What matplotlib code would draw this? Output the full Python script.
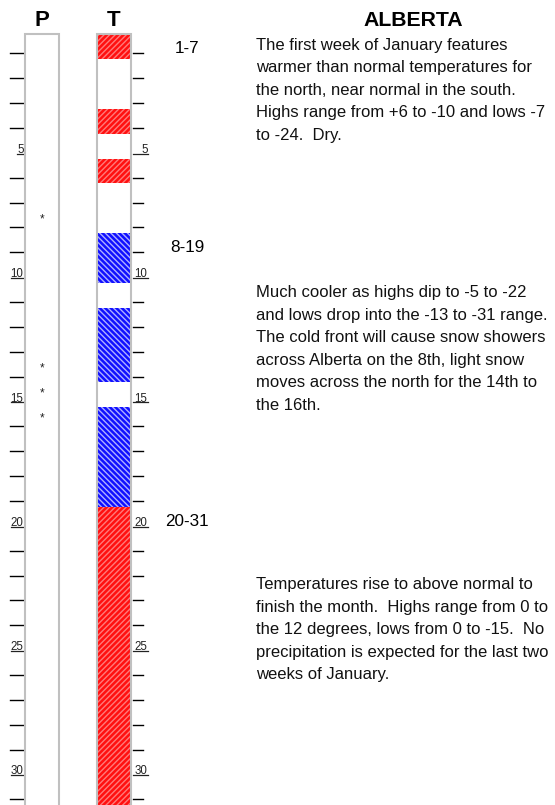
import matplotlib
matplotlib.use("Agg")
import matplotlib.pyplot as plt

plt.rcParams['font.family'] = ['Liberation Sans', 'DejaVu Sans']
plt.rcParams['hatch.linewidth'] = 1.0

# ---------------- data ----------------
days = list(range(1, 32))
# temperature anomaly per day: 'warm', 'cold' or 'normal'
temp_anomaly = ['warm', 'normal', 'normal', 'warm', 'normal', 'warm', 'normal',
                'normal', 'cold', 'cold', 'normal', 'cold', 'cold', 'cold',
                'normal', 'cold', 'cold', 'cold', 'cold',
                'warm', 'warm', 'warm', 'warm', 'warm', 'warm', 'warm', 'warm',
                'warm', 'warm', 'warm', 'warm']
precip_days = [8, 14, 15, 16]
labeled_days = [5, 10, 15, 20, 25, 30]

periods = ['1-7', '8-19', '20-31']
period_starts = [1, 8, 20]
period_ends = [7, 19, 31]

region = 'ALBERTA'
column_titles = ['P', 'T']
paragraphs = [
    ["The first week of January features",
     "warmer than normal temperatures for",
     "the north, near normal in the south.",
     "Highs range from +6 to -10 and lows -7",
     "to -24.  Dry."],
    ["Much cooler as highs dip to -5 to -22",
     "and lows drop into the -13 to -31 range.",
     "The cold front will cause snow showers",
     "across Alberta on the 8th, light snow",
     "moves across the north for the 14th to",
     "the 16th."],
    ["Temperatures rise to above normal to",
     "finish the month.  Highs range from 0 to",
     "the 12 degrees, lows from 0 to -15.  No",
     "precipitation is expected for the last two",
     "weeks of January."],
]

# ---------------- layout / style ----------------
W, H = 555, 805
TOP = 34.3          # pixel of top of day 1 row
ROW = (H - TOP) / 31.0
BASE_OFF = 0.27     # baseline offset (days) below row centre

fig = plt.figure(figsize=(W / 100, H / 100), dpi=100)
ax = fig.add_axes([0, 0, 1, 1])
ax.set_xlim(0, W)
# y in day units: row of day d spans [d-0.5, d+0.5]
ax.set_ylim(0.5 + (H - TOP) / ROW, 0.5 - TOP / ROW)
ax.axis('off')

def py(p):
    """pixel row -> day units"""
    return 0.5 + (p - TOP) / ROW

fill_style = {
    'warm': dict(facecolor='#ff1010', edgecolor='#ff7a7a', hatch='//////'),
    'cold': dict(facecolor='#1010ff', edgecolor='#b0b0ff', hatch='\\\\\\\\\\\\'),
}

P_L, P_R = 25.3, 59.3
T_L, T_R = 97.0, 131.0
grey = '#c0c0c0'

# temperature cells
for d, a in zip(days, temp_anomaly):
    if a in fill_style:
        ax.bar((T_L + T_R) / 2, 1.0, bottom=d - 0.5, width=T_R - T_L - 1.5,
               linewidth=0, zorder=2, **fill_style[a])

# column frames
y_top = py(TOP)
y_bot = days[-1] + 0.6
for xl, xr in [(P_L, P_R), (T_L, T_R)]:
    ax.plot([xl, xl, xr, xr], [y_bot, y_top, y_top, y_bot], color=grey,
            lw=1.5, solid_joinstyle='miter', zorder=3)

# precipitation markers
for d in precip_days:
    ax.text((P_L + P_R) / 2, d - 0.05, '*', ha='center', va='center',
            fontsize=8.5, color='#222222', zorder=4)

# ticks and day numbers
for d in days:
    yb = d + BASE_OFF
    if d in labeled_days:
        s = str(d)
        ax.text(23.5, yb, s, ha='right', va='baseline', fontsize=8.3, color='#222222')
        w = 6.2 * len(s)
        ax.plot([23.5 - w, 23.5], [yb + 0.04, yb + 0.04], color='#222222', lw=0.9)
        ax.text(147.5, yb, s, ha='right', va='baseline', fontsize=8.3, color='#222222')
        ax.plot([133, 147.5], [yb + 0.04, yb + 0.04], color='#222222', lw=0.9)
    else:
        ax.plot([10, 23], [yb, yb], color='black', lw=1.0)
        ax.plot([133, 143], [yb, yb], color='black', lw=1.0)

# headers
ax.text((P_L + P_R) / 2, py(26), column_titles[0], ha='center', va='baseline',
        fontsize=16, fontweight='bold')
ax.text((T_L + T_R) / 2, py(26), column_titles[1], ha='center', va='baseline',
        fontsize=16, fontweight='bold')
ax.text(413, py(26), region, ha='center', va='baseline', fontsize=15.3,
        fontweight='bold')

# period labels at first non-normal day of each period
for lab, s, e in zip(periods, period_starts, period_ends):
    first = next(d for d in range(s, e + 1) if temp_anomaly[d - 1] != 'normal')
    ax.text(187, first + BASE_OFF, lab, ha='center', va='baseline', fontsize=12.3)

# paragraphs
para_base = [50, 297.3, 589]
LS = 22.5
for lines, b in zip(paragraphs, para_base):
    for i, line in enumerate(lines):
        ax.text(256, py(b + i * LS), line, ha='left', va='baseline',
                fontsize=12.0, color='#111111')

fig.savefig('out.png', dpi=100)
